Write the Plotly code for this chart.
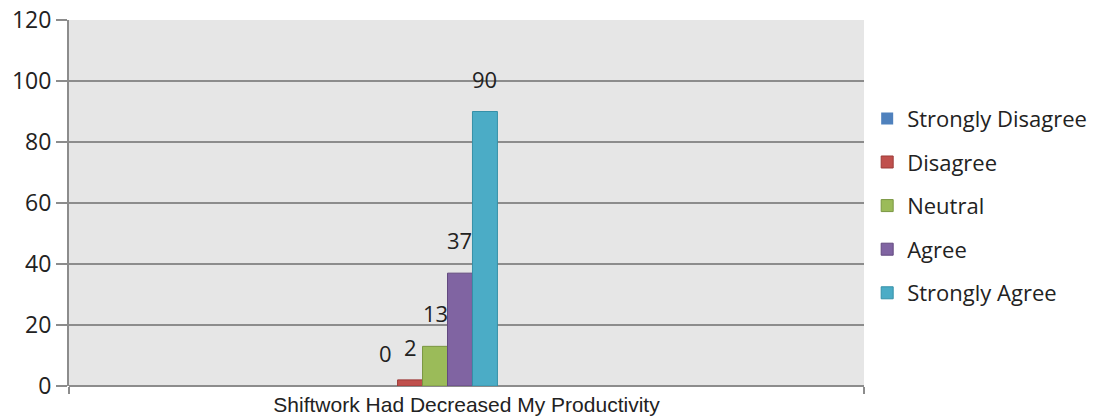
import plotly.graph_objects as go

category = "Shiftwork Had Decreased My Productivity"
series_names = ["Strongly Disagree", "Disagree", "Neutral", "Agree", "Strongly Agree"]
series_values = [0, 2, 13, 37, 90]
series_colors = ["#4F81BD", "#C0504D", "#9BBB59", "#8064A2", "#4BACC6"]
border_colors = ["#3A6595", "#9C3B38", "#7A9642", "#62497F", "#3590A8"]
y_ticks = [0, 20, 40, 60, 80, 100, 120]

BARGAP = 0.843
SHIFT = 0.0396
x_range = [-0.5 + SHIFT, 0.5 + SHIFT]
bar_w = (1 - BARGAP) / len(series_names)

fig = go.Figure()
for i, (name, val, col, bcol) in enumerate(zip(series_names, series_values, series_colors, border_colors)):
    fig.add_trace(go.Bar(
        x=[0], y=[val], name=name, legendgroup=name,
        marker=dict(color=col, line=dict(color=bcol, width=1 if val > 0 else 0)),
    ))
    fig.add_annotation(
        x=(i - (len(series_names) - 1) / 2) * bar_w, y=val,
        text=str(val), showarrow=False, yanchor="bottom", yshift=16,
        font=dict(family="Open Sans", size=22, color="#222222"),
    )

fig.update_layout(
    width=1102, height=418,
    margin=dict(l=69, r=238, t=20, b=32, autoexpand=False),
    paper_bgcolor="white", plot_bgcolor="#E6E6E6",
    barmode="group", bargap=BARGAP, bargroupgap=0,
    showlegend=True,
    legend=dict(
        x=1.004, y=0.788, xanchor="left", yanchor="top",
        font=dict(family="Open Sans", size=22, color="#222222"),
        tracegroupgap=12, itemwidth=30, bgcolor="rgba(0,0,0,0)",
    ),
    xaxis=dict(
        range=x_range, showgrid=False, zeroline=False, automargin=False,
        tickvals=x_range, ticks="outside", ticklen=7, tickwidth=2, tickcolor="#8C8C8C",
        showticklabels=False, showline=False,
        title=dict(text=category, standoff=4,
                   font=dict(family="Liberation Sans", size=21, color="#222222")),
    ),
    yaxis=dict(
        range=[0, 120], tickvals=y_ticks, automargin=False,
        showgrid=True, gridcolor="#8C8C8C", gridwidth=2,
        zeroline=True, zerolinecolor="#8C8C8C", zerolinewidth=2,
        showline=True, linecolor="#8C8C8C", linewidth=2,
        ticks="outside", ticklen=11, tickwidth=2, tickcolor="#8C8C8C",
        tickfont=dict(family="Open Sans", size=23, color="#222222"),
        ticklabelstandoff=0,
    ),
)

fig.write_html("out.html")
